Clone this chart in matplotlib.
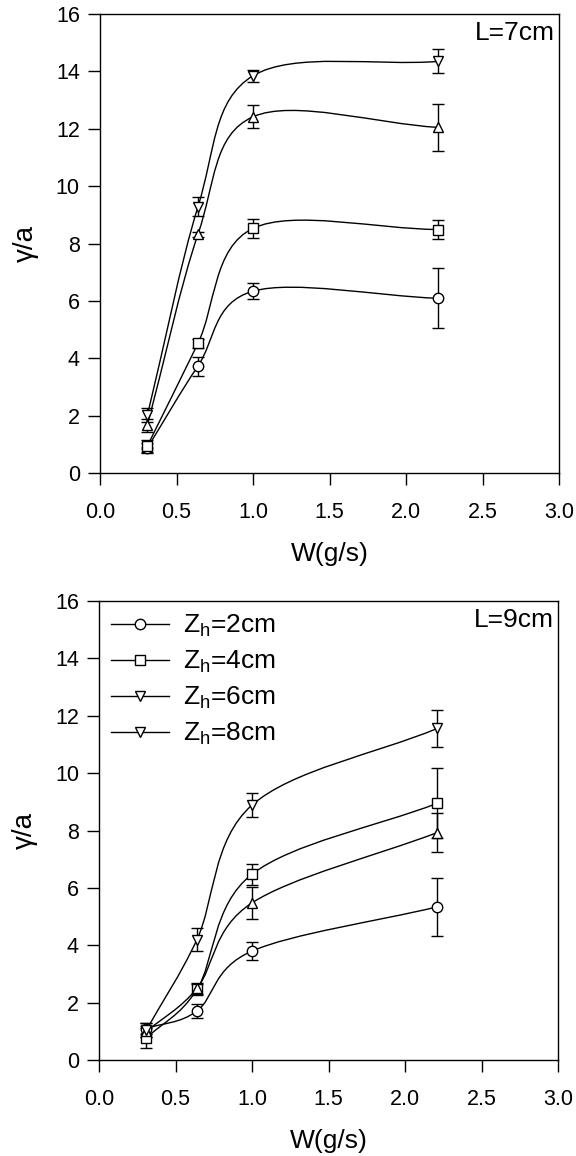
import numpy as np
import matplotlib
matplotlib.use("Agg")
import matplotlib.pyplot as plt
from matplotlib.lines import Line2D
from matplotlib.path import Path
from matplotlib.patches import PathPatch

plt.rcParams['font.family'] = ['Liberation Sans', 'DejaVu Sans']
plt.rcParams['mathtext.fontset'] = 'custom'
plt.rcParams['mathtext.rm'] = 'Liberation Sans'
plt.rcParams['mathtext.it'] = 'Liberation Sans'

# W (g/s)
w = [0.31, 0.64, 1.0, 2.21]

# L = 7cm
top_z2 = [0.88, 3.73, 6.34, 6.09]
top_z2_err = [0.18, 0.33, 0.28, 1.05]
top_z4 = [0.95, 4.52, 8.53, 8.49]
top_z4_err = [0.20, 0.15, 0.33, 0.33]
top_z6 = [1.67, 8.32, 12.42, 12.05]
top_z6_err = [0.23, 0.10, 0.40, 0.83]
top_z8 = [2.02, 9.28, 13.85, 14.35]
top_z8_err = [0.23, 0.33, 0.20, 0.42]

# L = 9cm
bot_z2 = [1.10, 1.71, 3.80, 5.34]
bot_z2_err = [0.20, 0.25, 0.30, 1.00]
bot_z4 = [0.77, 2.46, 6.48, 8.95]
bot_z4_err = [0.36, 0.20, 0.37, 1.22]
bot_z6 = [1.00, 2.50, 5.48, 7.93]
bot_z6_err = [0.20, 0.20, 0.57, 0.67]
bot_z8 = [1.05, 4.20, 8.89, 11.56]
bot_z8_err = [0.25, 0.40, 0.42, 0.65]

labels = [r'Z$_\mathregular{h}$=2cm', r'Z$_\mathregular{h}$=4cm',
          r'Z$_\mathregular{h}$=6cm', r'Z$_\mathregular{h}$=8cm']
markers = ['o', 's', '^', 'v']
legend_markers = ['o', 's', 'v', 'v']


def spline_path(x, y):
    # Catmull-Rom through the points, drawn as cubic Bezier segments
    p = np.column_stack([x, y]).astype(float)
    n = len(p)
    t = np.zeros_like(p)
    t[0] = p[1] - p[0]
    t[-1] = p[-1] - p[-2]
    for i in range(1, n - 1):
        t[i] = (p[i + 1] - p[i - 1]) / 2
    verts = [p[0]]
    codes = [Path.MOVETO]
    for i in range(n - 1):
        verts += [p[i] + t[i] / 3, p[i + 1] - t[i + 1] / 3, p[i + 1]]
        codes += [Path.CURVE4] * 3
    return Path(verts, codes)


fig = plt.figure(figsize=(5.76, 11.56), dpi=100)
ax1 = fig.add_axes([0.1736, 0.5908, 0.797, 0.397])
ax2 = fig.add_axes([0.1719, 0.0830, 0.797, 0.397])

panels = [
    (ax1, [top_z2, top_z4, top_z6, top_z8],
     [top_z2_err, top_z4_err, top_z6_err, top_z8_err], 'L=7cm'),
    (ax2, [bot_z2, bot_z4, bot_z6, bot_z8],
     [bot_z2_err, bot_z4_err, bot_z6_err, bot_z8_err], 'L=9cm'),
]

for ax, series, errs, title in panels:
    for ys, es, m in zip(series, errs, markers):
        ax.add_patch(PathPatch(spline_path(w, ys), facecolor='none',
                               edgecolor='black', lw=1.0, zorder=2))
        ax.errorbar(w, ys, yerr=es, fmt='none', ecolor='black', elinewidth=1.0,
                    capsize=4.5, capthick=1.0, zorder=3)
        ax.plot(w, ys, linestyle='none', marker=m, markersize=7.5,
                markerfacecolor='white', markeredgecolor='black',
                markeredgewidth=1.0, zorder=4)
    ax.set_xlim(0, 3.0)
    ax.set_ylim(0, 16)
    ax.set_xticks(np.arange(0, 3.01, 0.5))
    ax.set_yticks(np.arange(0, 17, 2))
    ax.set_xticklabels(['%.1f' % v for v in np.arange(0, 3.01, 0.5)])
    ax.tick_params(direction='out', length=8.5, width=1.0, labelsize=15.5)
    ax.tick_params(axis='x', pad=12)
    ax.tick_params(axis='y', pad=6)
    for s in ax.spines.values():
        s.set_linewidth(1.0)
    ax.set_xlabel('W(g/s)', fontsize=19, labelpad=14)
    ax.set_ylabel('γ/a', fontsize=20, labelpad=12)
    ax.text(0.99, 0.985, title, transform=ax.transAxes, ha='right', va='top',
            fontsize=19)

handles = [Line2D([], [], color='black', lw=1.0, marker=m, markersize=7.5,
                  markerfacecolor='white', markeredgecolor='black',
                  markeredgewidth=1.0) for m in legend_markers]
ax2.legend(handles, labels, loc='upper left', frameon=False, fontsize=19,
           handlelength=2.2, handletextpad=0.55, labelspacing=0.37,
           borderaxespad=0.0, borderpad=0.45, bbox_to_anchor=(0.0, 1.0))

fig.savefig('out.png', dpi=100)
